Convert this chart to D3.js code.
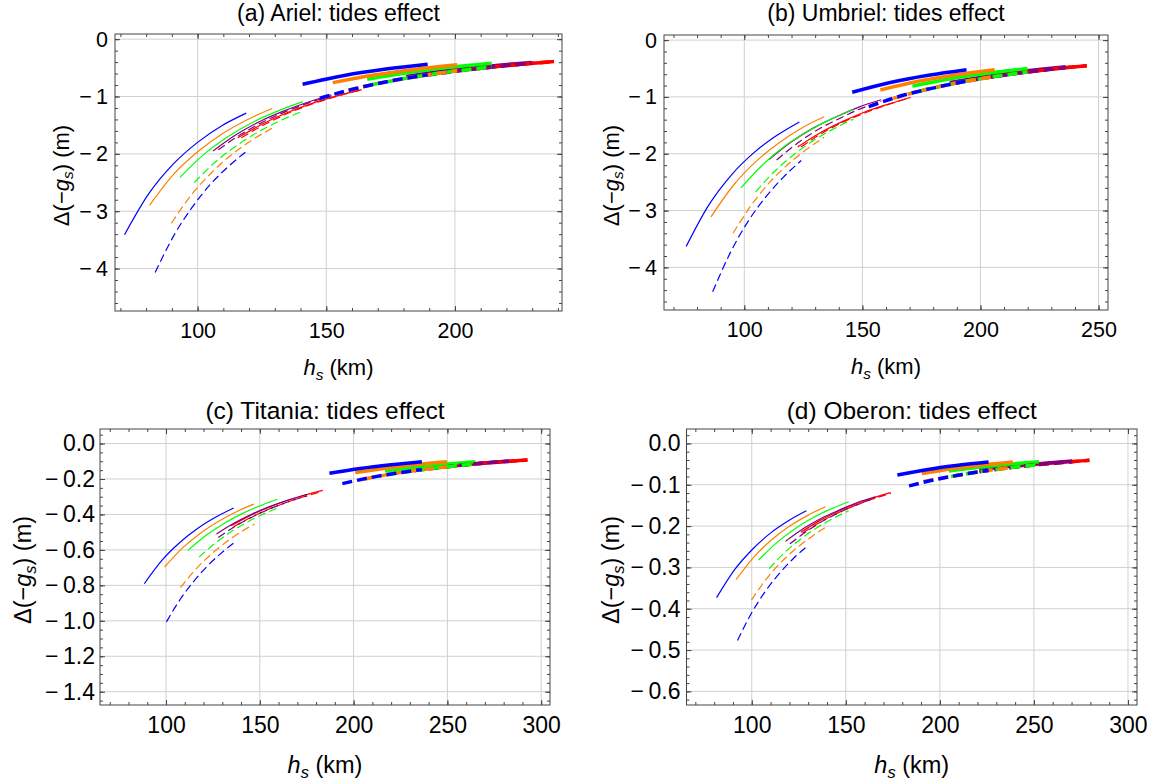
<!DOCTYPE html>
<html>
<head>
<meta charset="utf-8">
<script src="https://cdn.jsdelivr.net/npm/d3@7"></script>
<style>
  body { margin: 0; background: #fff; }
  svg text { font-family: "Liberation Sans", Arial, Helvetica, sans-serif; }
</style>
</head>
<body>
<div id="chart"></div>
<script>
// colour order of every series list below: blue, orange, green, purple, red
var seriesColors = ["#0000ff", "#ff8000", "#00ff00", "#800080", "#ff0000"];

var xTicksA = [100, 150, 200];
var xTicksB = [100, 150, 200, 250];
var xTicksCD = [100, 150, 200, 250, 300];
var yTicksAB = [0, -1, -2, -3, -4];
var yTicksC = [0, -0.2, -0.4, -0.6, -0.8, -1.0, -1.2, -1.4];
var yTicksD = [0, -0.1, -0.2, -0.3, -0.4, -0.5, -0.6];

// (a) Ariel  [h_s in km, delta(-g_s) in m]
var ariel_thin_solid = [
  [[71.6,-3.41],[81.1,-2.69],[90.5,-2.18],[100.0,-1.80],[109.4,-1.51],[118.9,-1.29]],
  [[81.3,-2.90],[90.8,-2.35],[100.4,-1.95],[109.9,-1.64],[119.5,-1.40],[129.0,-1.21]],
  [[93.1,-2.41],[102.7,-2.00],[112.2,-1.69],[121.8,-1.44],[131.3,-1.25],[140.9,-1.09]],
  [[106.0,-1.95],[115.2,-1.66],[124.4,-1.43],[133.6,-1.25],[142.8,-1.10],[152.0,-0.97]],
  [[115.6,-1.72],[125.2,-1.48],[134.9,-1.28],[144.5,-1.12],[154.2,-0.99],[163.8,-0.88]]
];
var ariel_thin_dashed = [
  [[83.5,-4.07],[90.7,-3.43],[97.9,-2.93],[105.0,-2.53],[112.2,-2.21],[119.4,-1.94]],
  [[89.8,-3.21],[97.7,-2.71],[105.6,-2.32],[113.6,-2.00],[121.5,-1.75],[129.4,-1.54]],
  [[98.7,-2.50],[107.2,-2.13],[115.7,-1.84],[124.2,-1.60],[132.7,-1.41],[141.2,-1.25]],
  [[108.0,-1.93],[116.8,-1.66],[125.6,-1.44],[134.4,-1.26],[143.2,-1.11],[152.0,-0.99]],
  [[117.0,-1.72],[126.4,-1.48],[135.8,-1.28],[145.2,-1.12],[154.6,-0.99],[164.0,-0.88]]
];
var ariel_thick_solid = [
  [[140.8,-0.787],[157.0,-0.634],[173.2,-0.522],[189.4,-0.438]],
  [[152.5,-0.758],[168.6,-0.625],[184.8,-0.523],[200.9,-0.445]],
  [[165.9,-0.70],[182.0,-0.58],[198.1,-0.49],[214.3,-0.42]],
  [[181.0,-0.65],[197.3,-0.547],[213.5,-0.467],[229.8,-0.405]],
  [[197.0,-0.565],[210.8,-0.50],[224.7,-0.44],[238.5,-0.388]]
];
var ariel_thick_dashed = [
  [[147.5,-1.03],[161.5,-0.86],[175.5,-0.725],[189.4,-0.62]],
  [[158.5,-0.89],[172.6,-0.75],[186.7,-0.64],[200.9,-0.55]],
  [[168.0,-0.79],[183.4,-0.665],[198.9,-0.565],[214.3,-0.485]],
  [[183.0,-0.67],[198.6,-0.57],[214.2,-0.49],[229.8,-0.42]],
  [[198.0,-0.565],[211.5,-0.50],[225.0,-0.44],[238.5,-0.39]]
];

// (b) Umbriel
var umbriel_thin_solid = [
  [[75.4,-3.63],[85.0,-2.90],[94.6,-2.37],[104.1,-1.98],[113.7,-1.68],[123.3,-1.44]],
  [[85.9,-3.11],[95.5,-2.55],[105.1,-2.13],[114.6,-1.81],[124.2,-1.55],[133.8,-1.35]],
  [[98.6,-2.60],[108.1,-2.18],[117.6,-1.85],[127.2,-1.60],[136.7,-1.39],[146.2,-1.22]],
  [[110.5,-2.10],[120.0,-1.79],[129.5,-1.54],[139.0,-1.35],[148.5,-1.18],[158.0,-1.05]],
  [[122.6,-1.88],[132.2,-1.63],[141.7,-1.43],[151.3,-1.26],[160.8,-1.13],[170.4,-1.01]]
];
var umbriel_thin_dashed = [
  [[86.6,-4.43],[94.1,-3.74],[101.6,-3.19],[109.1,-2.76],[116.6,-2.41],[124.1,-2.12]],
  [[95.2,-3.40],[102.9,-2.91],[110.6,-2.51],[118.4,-2.19],[126.1,-1.93],[133.8,-1.71]],
  [[104.8,-2.67],[113.1,-2.30],[121.4,-2.00],[129.6,-1.76],[137.9,-1.56],[146.2,-1.39]],
  [[113.7,-2.11],[122.6,-1.81],[131.4,-1.57],[140.3,-1.38],[149.1,-1.21],[158.0,-1.08]],
  [[124.0,-1.88],[133.3,-1.63],[142.6,-1.43],[151.8,-1.27],[161.1,-1.13],[170.4,-1.01]]
];
var umbriel_thick_solid = [
  [[145.7,-0.918],[161.8,-0.746],[177.9,-0.618],[194.1,-0.52]],
  [[157.6,-0.877],[173.7,-0.725],[189.9,-0.61],[206.0,-0.52]],
  [[171.2,-0.81],[187.4,-0.68],[203.7,-0.58],[219.9,-0.50]],
  [[187.0,-0.746],[203.4,-0.63],[219.7,-0.54],[236.1,-0.468]],
  [[204.0,-0.649],[217.7,-0.57],[231.3,-0.505],[245.0,-0.45]]
];
var umbriel_thick_dashed = [
  [[152.7,-1.17],[166.5,-0.98],[180.3,-0.84],[194.1,-0.72]],
  [[163.0,-1.025],[177.3,-0.865],[191.7,-0.74],[206.0,-0.64]],
  [[174.0,-0.90],[189.3,-0.76],[204.6,-0.65],[219.9,-0.56]],
  [[189.0,-0.76],[204.7,-0.65],[220.4,-0.56],[236.1,-0.485]],
  [[205.0,-0.645],[218.3,-0.568],[231.7,-0.504],[245.0,-0.45]]
];

// (c) Titania
var titania_thin_solid = [
  [[88.4,-0.791],[97.9,-0.658],[107.5,-0.557],[117.0,-0.478],[126.6,-0.415],[136.1,-0.364]],
  [[99.2,-0.697],[108.7,-0.590],[118.2,-0.507],[127.8,-0.440],[137.3,-0.386],[146.8,-0.342]],
  [[111.6,-0.604],[121.2,-0.519],[130.7,-0.452],[140.3,-0.397],[149.8,-0.352],[159.4,-0.314]],
  [[126.9,-0.510],[136.6,-0.447],[146.2,-0.396],[155.9,-0.353],[165.5,-0.317],[175.2,-0.286]],
  [[134.7,-0.464],[144.5,-0.408],[154.2,-0.362],[164.0,-0.324],[173.7,-0.292],[183.5,-0.264]]
];
var titania_thin_dashed = [
  [[100.2,-1.006],[107.5,-0.880],[114.8,-0.777],[122.1,-0.691],[129.4,-0.618],[136.7,-0.557]],
  [[107.7,-0.813],[115.6,-0.712],[123.5,-0.630],[131.4,-0.561],[139.3,-0.503],[147.2,-0.454]],
  [[117.6,-0.641],[126.0,-0.564],[134.3,-0.500],[142.7,-0.447],[151.0,-0.402],[159.4,-0.364]],
  [[127.8,-0.530],[137.3,-0.464],[146.8,-0.410],[156.2,-0.365],[165.7,-0.327],[175.2,-0.295]],
  [[136.0,-0.470],[145.5,-0.415],[155.0,-0.369],[164.5,-0.331],[174.0,-0.298],[183.5,-0.270]]
];
var titania_thick_solid = [
  [[187.1,-0.168],[203.5,-0.141],[220.0,-0.12],[236.4,-0.103]],
  [[200.9,-0.164],[217.2,-0.139],[233.5,-0.119],[249.8,-0.103]],
  [[216.7,-0.155],[232.8,-0.134],[248.9,-0.117],[265.0,-0.103]],
  [[233.0,-0.146],[249.6,-0.127],[266.2,-0.112],[282.8,-0.099]],
  [[250.0,-0.127],[264.2,-0.114],[278.5,-0.103],[292.7,-0.093]]
];
var titania_thick_dashed = [
  [[194.0,-0.226],[208.1,-0.194],[222.3,-0.168],[236.4,-0.147]],
  [[205.8,-0.20],[220.5,-0.171],[235.2,-0.149],[249.8,-0.131]],
  [[218.0,-0.176],[233.7,-0.151],[249.3,-0.131],[265.0,-0.115]],
  [[232.0,-0.154],[249.0,-0.132],[265.9,-0.114],[282.8,-0.10]],
  [[250.0,-0.131],[264.2,-0.116],[278.5,-0.104],[292.7,-0.093]]
];

// (d) Oberon
var oberon_thin_solid = [
  [[81.3,-0.373],[90.8,-0.306],[100.4,-0.256],[109.9,-0.217],[119.5,-0.187],[129.0,-0.163]],
  [[91.6,-0.330],[101.1,-0.275],[110.6,-0.233],[120.2,-0.200],[129.7,-0.174],[139.2,-0.153]],
  [[103.7,-0.282],[113.3,-0.240],[122.8,-0.207],[132.4,-0.180],[141.9,-0.159],[151.5,-0.141]],
  [[117.9,-0.237],[127.5,-0.206],[137.0,-0.181],[146.6,-0.161],[156.1,-0.143],[165.7,-0.129]],
  [[126.1,-0.215],[135.7,-0.188],[145.2,-0.166],[154.8,-0.147],[164.3,-0.132],[173.9,-0.119]]
];
var oberon_thin_dashed = [
  [[92.4,-0.477],[99.8,-0.411],[107.2,-0.358],[114.6,-0.315],[122.0,-0.279],[129.4,-0.249]],
  [[99.8,-0.379],[107.8,-0.328],[115.9,-0.286],[123.9,-0.253],[132.0,-0.225],[140.0,-0.201]],
  [[109.2,-0.303],[117.7,-0.263],[126.1,-0.231],[134.6,-0.204],[143.0,-0.182],[151.5,-0.163]],
  [[120.3,-0.243],[129.4,-0.212],[138.5,-0.186],[147.5,-0.165],[156.6,-0.147],[165.7,-0.132]],
  [[127.0,-0.217],[136.4,-0.190],[145.8,-0.168],[155.1,-0.150],[164.5,-0.134],[173.9,-0.121]]
];
var oberon_thick_solid = [
  [[177.4,-0.0762],[193.6,-0.0629],[209.7,-0.0528],[225.9,-0.0449]],
  [[190.4,-0.073],[206.5,-0.0613],[222.7,-0.0521],[238.8,-0.0449]],
  [[204.7,-0.0666],[220.7,-0.0575],[236.8,-0.0501],[252.8,-0.0441]],
  [[221.0,-0.0636],[237.5,-0.0551],[254.0,-0.0482],[270.4,-0.0425]],
  [[237.0,-0.0569],[251.2,-0.0506],[265.3,-0.0454],[279.5,-0.0409]]
];
var oberon_thick_dashed = [
  [[183.6,-0.1027],[197.7,-0.0873],[211.8,-0.0751],[225.9,-0.0652]],
  [[191.4,-0.092],[207.2,-0.0789],[223.0,-0.0671],[238.8,-0.0577]],
  [[206.0,-0.080],[221.6,-0.068],[237.2,-0.0586],[252.8,-0.051]],
  [[221.0,-0.0683],[237.5,-0.0584],[254.0,-0.0504],[270.4,-0.044]],
  [[237.0,-0.0586],[251.2,-0.0517],[265.3,-0.0459],[279.5,-0.0409]]
];

var W = 1153, H = 783;
var frameColor = "#444";
var gridColor = "#d0d0d0";

var panels = [
  {title: "(a) Ariel: tides effect", left: 115, right: 562, top: 34, bottom: 311,
   xDomain: [67.9, 241.6], yDomain: [-4.74, 0.09], xTicks: xTicksA, yTicks: yTicksAB,
   yMinor: 0.2, yFmt: "d", yLabelOff: 54, titleY: 21, xPad: 12, yPad: 7, xLabelOff: 64,
   fs: 21.5, titleFs: 23,
   thin: ariel_thin_solid, thinD: ariel_thin_dashed, thick: ariel_thick_solid, thickD: ariel_thick_dashed},
  {title: "(b) Umbriel: tides effect", left: 664, right: 1108, top: 35, bottom: 310,
   xDomain: [66.0, 254.0], yDomain: [-4.75, 0.09], xTicks: xTicksB, yTicks: yTicksAB,
   yMinor: 0.2, yFmt: "d", yLabelOff: 53, titleY: 21, xPad: 12, yPad: 7, xLabelOff: 64,
   fs: 21.5, titleFs: 23,
   thin: umbriel_thin_solid, thinD: umbriel_thin_dashed, thick: umbriel_thick_solid, thickD: umbriel_thick_dashed},
  {title: "(c) Titania: tides effect", left: 100, right: 550, top: 429, bottom: 705,
   xDomain: [64.8, 304.7], yDomain: [-1.475, 0.082], xTicks: xTicksCD, yTicks: yTicksC,
   yMinor: 0.05, yFmt: ".1f", yLabelOff: 77, titleY: 419, xPad: 12, yPad: 5, xLabelOff: 68,
   fs: 23, titleFs: 24.5,
   thin: titania_thin_solid, thinD: titania_thin_dashed, thick: titania_thick_solid, thickD: titania_thick_dashed},
  {title: "(d) Oberon: tides effect", left: 686.5, right: 1137, top: 429, bottom: 705,
   xDomain: [65.3, 304.8], yDomain: [-0.633, 0.035], xTicks: xTicksCD, yTicks: yTicksD,
   yMinor: 0.02, yFmt: ".1f", yLabelOff: 76, titleY: 419, xPad: 12, yPad: 6, xLabelOff: 68,
   fs: 23, titleFs: 24.5,
   thin: oberon_thin_solid, thinD: oberon_thin_dashed, thick: oberon_thick_solid, thickD: oberon_thick_dashed}
];

var svg = d3.select("#chart").append("svg")
  .attr("width", W).attr("height", H)
  .style("display", "block");

function stepRange(d0, d1, step) {
  var lo = Math.min(d0, d1), hi = Math.max(d0, d1);
  return d3.range(Math.ceil(lo / step - 1e-9), Math.floor(hi / step + 1e-9) + 1)
    .map(function (i) { return +(i * step).toFixed(5); });
}

function styleAxis(sel, fs) {
  sel.select(".domain").remove();
  sel.attr("color", frameColor)
    .attr("font-size", fs)
    .attr("font-family", "'Liberation Sans', Arial, Helvetica, sans-serif");
  sel.selectAll("text").attr("fill", "#000");
}

function drawPanel(p) {
  var x = d3.scaleLinear().domain(p.xDomain).range([p.left, p.right]);
  var y = d3.scaleLinear().domain(p.yDomain).range([p.bottom, p.top]);
  var g = svg.append("g");

  // grid lines at the major ticks
  g.selectAll(".vg").data(p.xTicks).enter().append("line")
    .attr("x1", function (d) { return x(d); }).attr("x2", function (d) { return x(d); })
    .attr("y1", p.top).attr("y2", p.bottom)
    .attr("stroke", gridColor).attr("stroke-width", 1);
  g.selectAll(".hg").data(p.yTicks).enter().append("line")
    .attr("x1", p.left).attr("x2", p.right)
    .attr("y1", function (d) { return y(d); }).attr("y2", function (d) { return y(d); })
    .attr("stroke", gridColor).attr("stroke-width", 1);

  var line = d3.line()
    .x(function (d) { return x(d[0]); })
    .y(function (d) { return y(d[1]); })
    .curve(d3.curveMonotoneX);

  // red drawn first, blue last
  var groups = [
    {data: p.thin, w: 1.2, dash: null},
    {data: p.thinD, w: 1.2, dash: "8,4"},
    {data: p.thick, w: 3.5, dash: null},
    {data: p.thickD, w: 3.5, dash: "10,5"}
  ];
  groups.forEach(function (gr) {
    for (var i = gr.data.length - 1; i >= 0; i--) {
      g.append("path")
        .attr("d", line(gr.data[i]))
        .attr("fill", "none")
        .attr("stroke", seriesColors[i])
        .attr("stroke-width", gr.w)
        .attr("stroke-dasharray", gr.dash);
    }
  });

  // frame ticks, minor then major, on all four sides
  var xMinor = stepRange(p.xDomain[0], p.xDomain[1], 10);
  var yMinorT = stepRange(p.yDomain[0], p.yDomain[1], p.yMinor);
  var base = d3.format(p.yFmt);
  var fmtY = function (d) {
    return d < 0 ? "\u2212\u2009" + base(-d) : base(d);
  };

  g.append("g").attr("transform", "translate(0," + p.bottom + ")")
    .call(d3.axisBottom(x).tickValues(xMinor).tickSize(-3).tickFormat("")).call(styleAxis, p.fs);
  g.append("g").attr("transform", "translate(0," + p.top + ")")
    .call(d3.axisTop(x).tickValues(xMinor).tickSize(-3).tickFormat("")).call(styleAxis, p.fs);
  g.append("g").attr("transform", "translate(" + p.left + ",0)")
    .call(d3.axisLeft(y).tickValues(yMinorT).tickSize(-3).tickFormat("")).call(styleAxis, p.fs);
  g.append("g").attr("transform", "translate(" + p.right + ",0)")
    .call(d3.axisRight(y).tickValues(yMinorT).tickSize(-3).tickFormat("")).call(styleAxis, p.fs);

  g.append("g").attr("transform", "translate(0," + p.bottom + ")")
    .call(d3.axisBottom(x).tickValues(p.xTicks).tickSize(-5).tickPadding(p.xPad)
      .tickFormat(d3.format("d"))).call(styleAxis, p.fs);
  g.append("g").attr("transform", "translate(0," + p.top + ")")
    .call(d3.axisTop(x).tickValues(p.xTicks).tickSize(-5).tickFormat("")).call(styleAxis, p.fs);
  g.append("g").attr("transform", "translate(" + p.left + ",0)")
    .call(d3.axisLeft(y).tickValues(p.yTicks).tickSize(-5).tickPadding(p.yPad)
      .tickFormat(fmtY)).call(styleAxis, p.fs);
  g.append("g").attr("transform", "translate(" + p.right + ",0)")
    .call(d3.axisRight(y).tickValues(p.yTicks).tickSize(-5).tickFormat("")).call(styleAxis, p.fs);

  g.append("rect")
    .attr("x", p.left).attr("y", p.top)
    .attr("width", p.right - p.left).attr("height", p.bottom - p.top)
    .attr("fill", "none").attr("stroke", frameColor).attr("stroke-width", 1);

  var cx = (p.left + p.right) / 2;

  g.append("text")
    .attr("x", cx).attr("y", p.titleY)
    .attr("text-anchor", "middle")
    .attr("font-size", p.titleFs)
    .text(p.title);

  // x label: h_s (km)
  var lf = p.fs + 0.5;
  var xl = g.append("text")
    .attr("x", cx).attr("y", p.bottom + p.xLabelOff)
    .attr("text-anchor", "middle")
    .attr("font-size", lf);
  xl.append("tspan").attr("font-style", "italic").text("h");
  xl.append("tspan").attr("font-style", "italic").attr("font-size", lf * 0.7)
    .attr("dy", "0.3em").text("s");
  xl.append("tspan").attr("dy", "-0.21em").text(" (km)");

  // y label: Δ(−g_s) (m)
  var cy = (p.top + p.bottom) / 2 + 3;
  var yl = g.append("text")
    .attr("transform", "translate(" + (p.left - p.yLabelOff) + "," + cy + ") rotate(-90)")
    .attr("text-anchor", "middle")
    .attr("dy", "0.35em")
    .attr("font-size", lf);
  yl.append("tspan").text("\u0394(\u2212");
  yl.append("tspan").attr("font-style", "italic").text("g");
  yl.append("tspan").attr("font-style", "italic").attr("font-size", lf * 0.7)
    .attr("dy", "0.3em").text("s");
  yl.append("tspan").attr("dy", "-0.21em").text(") (m)");
}

panels.forEach(drawPanel);
</script>
</body>
</html>
